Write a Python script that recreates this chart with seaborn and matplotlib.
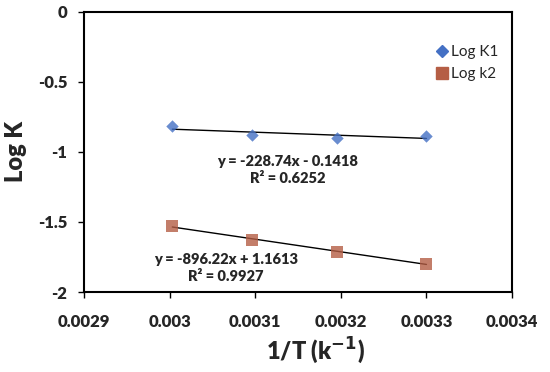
import numpy as np
import pandas as pd
import matplotlib
matplotlib.use('Agg')
import matplotlib.pyplot as plt
import seaborn as sns
from matplotlib.lines import Line2D

# 1/T for 60, 50, 40, 30 degC
inv_T = [0.003003, 0.003096, 0.003195, 0.0033]
log_k1 = [-0.817, -0.877, -0.901, -0.884]
log_k2 = [-1.527, -1.630, -1.713, -1.797]

eq_k1 = "y = -228.74x - 0.1418\nR² = 0.6252"
eq_k2 = "y = -896.22x + 1.1613\nR² = 0.9927"

x_ticks = [0.0029, 0.003, 0.0031, 0.0032, 0.0033, 0.0034]
y_ticks = [0, -0.5, -1, -1.5, -2]

sns.set_style('white')
plt.rcParams['font.family'] = ['Lato', 'DejaVu Sans']

col_k1 = '#4470c4'
col_k2 = '#b55e45'

fig, ax = plt.subplots(figsize=(5.5, 3.72), dpi=100)
fig.subplots_adjust(left=0.153, right=0.931, top=0.968, bottom=0.215)

sns.regplot(x=inv_T, y=log_k1, ax=ax, ci=None, marker='D',
            scatter_kws={'color': col_k1, 's': 40, 'linewidths': 0, 'zorder': 3},
            line_kws={'color': 'black', 'lw': 1, 'zorder': 2})
sns.regplot(x=inv_T, y=log_k2, ax=ax, ci=None, marker='s',
            scatter_kws={'color': col_k2, 's': 85, 'linewidths': 0, 'zorder': 3},
            line_kws={'color': 'black', 'lw': 1, 'zorder': 2})

ax.text(0.003138, -1.13, eq_k1, ha='center', va='center', fontsize=10.5,
        fontweight='heavy', linespacing=1.35)
ax.text(0.003066, -1.83, eq_k2, ha='center', va='center', fontsize=10.5,
        fontweight='heavy', linespacing=1.35)

ax.set_xlim(0.0029, 0.0034)
ax.set_ylim(-2, 0)
ax.set_xticks(x_ticks)
ax.set_xticklabels([f"{t:g}" for t in x_ticks], fontweight='heavy')
ax.set_yticks(y_ticks)
ax.set_yticklabels([f"{t:g}" for t in y_ticks], fontweight='heavy')
ax.tick_params(axis='both', labelsize=12, direction='out', length=4, width=1,
               color='black', left=True, bottom=True)
ax.tick_params(axis='x', pad=12)
ax.tick_params(axis='y', pad=8)

for sp in ax.spines.values():
    sp.set_color('black')
    sp.set_linewidth(1.5)

ax.set_xlabel('1/T (k$^{\\mathbf{-1}}$)', fontsize=17, fontweight='heavy')
ax.xaxis.set_label_coords(0.54, -0.155)
ax.set_ylabel('Log K', fontsize=17, fontweight='heavy', labelpad=8)

handles = [Line2D([], [], marker='D', color=col_k1, ls='', markersize=6),
           Line2D([], [], marker='s', color=col_k2, ls='', markersize=9)]
ax.legend(handles, ['Log K1', 'Log k2'], loc='upper right', frameon=False,
          fontsize=11, handletextpad=0.1, handlelength=1.0,
          bbox_to_anchor=(1.0, 0.93))

fig.savefig('out.png', dpi=100)
